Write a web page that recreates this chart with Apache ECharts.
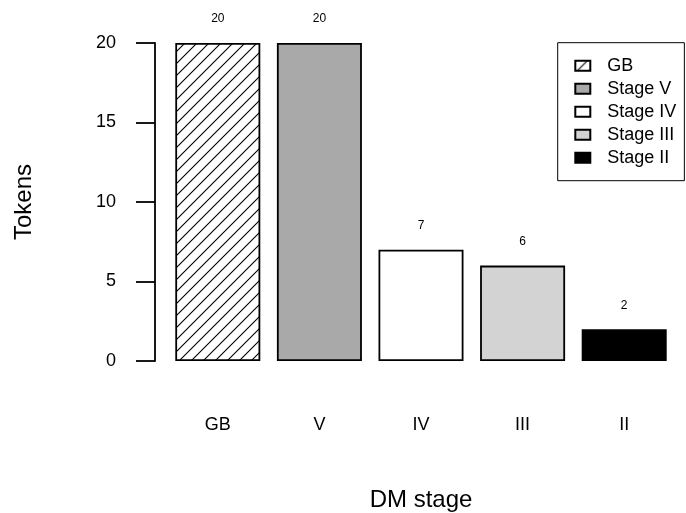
<!DOCTYPE html>
<html>
<head>
<meta charset="utf-8">
<script src="https://cdn.jsdelivr.net/npm/echarts@6/dist/echarts.min.js"></script>
<style>
html,body{margin:0;padding:0;background:#fff;}
#chart{width:686px;height:513px;}
</style>
</head>
<body>
<div id="chart"></div>
<script>
// Data
const categories = ['GB', 'V', 'IV', 'III', 'II'];
const seriesNames = ['GB', 'Stage V', 'Stage IV', 'Stage III', 'Stage II'];
const tokens = [20, 20, 7, 6, 2];
const yTicks = [0, 5, 10, 15, 20];

// Styles
const FONT = '"Liberation Sans", Arial, sans-serif';
function hatchPattern() {
  const s = 12;
  const c = document.createElement('canvas');
  c.width = s; c.height = s;
  const g = c.getContext('2d');
  g.fillStyle = '#fff';
  g.fillRect(0, 0, s, s);
  g.strokeStyle = '#000';
  g.lineWidth = 1.1;
  g.beginPath();
  g.moveTo(-1, s + 1); g.lineTo(s + 1, -1);
  g.moveTo(-1, 1); g.lineTo(1, -1);
  g.moveTo(s - 1, s + 1); g.lineTo(s + 1, s - 1);
  g.stroke();
  return c;
}
const fills = [
  { image: hatchPattern(), repeat: 'repeat' },
  '#a9a9a9',
  '#ffffff',
  '#d3d3d3',
  '#000000'
];

const chart = echarts.init(document.getElementById('chart'), null, { renderer: 'canvas' });

const series = seriesNames.map((name, i) => ({
  name: name,
  type: 'bar',
  stack: 'all',
  barWidth: 85,
  data: categories.map((c, j) => (j === i ? tokens[j] : '-')),
  itemStyle: { color: fills[i], borderColor: '#000', borderWidth: 1.8 },
  label: {
    show: true,
    position: 'top',
    distance: 18,
    color: '#000',
    fontSize: 12,
    fontFamily: FONT
  },
  emphasis: { disabled: true },
  animation: false
}));

chart.setOption({
  backgroundColor: '#fff',
  animation: false,
  textStyle: { fontFamily: FONT, color: '#000' },
  grid: { left: 167, right: 11, top: 43, bottom: 152, containLabel: false, outerBoundsMode: 'none' },
  legend: {
    orient: 'vertical',
    left: 557.7,
    top: 42.7,
    padding: [14, 8, 14, 16.6],
    icon: 'rect',
    itemWidth: 15,
    itemHeight: 10,
    itemGap: 5,
    borderColor: '#000',
    borderWidth: 1,
    data: seriesNames,
    textStyle: { fontSize: 18, lineHeight: 18, color: '#000', fontFamily: FONT, padding: [0, 0, 0, 12] },
    selectedMode: false
  },
  xAxis: {
    type: 'category',
    data: categories,
    name: 'DM stage',
    nameLocation: 'middle',
    nameGap: 127,
    nameTextStyle: { fontSize: 24, color: '#000', fontFamily: FONT },
    axisLine: { show: false },
    axisTick: { show: false },
    axisLabel: { margin: 55, fontSize: 18, color: '#000', fontFamily: FONT }
  },
  yAxis: {
    type: 'value',
    min: yTicks[0],
    max: yTicks[yTicks.length - 1],
    interval: yTicks[1] - yTicks[0],
    offset: 12,
    name: 'Tokens',
    nameLocation: 'middle',
    nameGap: 119,
    nameRotate: 90,
    nameTextStyle: { fontSize: 24, color: '#000', fontFamily: FONT },
    axisLine: { show: true, lineStyle: { color: '#000', width: 1.8 } },
    axisTick: { show: true, length: 19, lineStyle: { color: '#000', width: 1.8 } },
    axisLabel: { margin: 39, fontSize: 18, color: '#000', fontFamily: FONT },
    splitLine: { show: false }
  },
  series: series
});
</script>
</body>
</html>
